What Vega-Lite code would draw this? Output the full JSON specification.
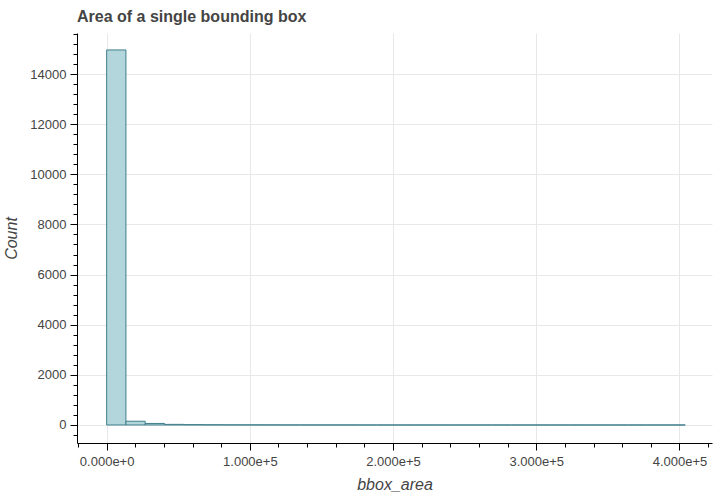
{
  "$schema": "https://vega.github.io/schema/vega-lite/v6.json",
  "width": 635,
  "height": 410,
  "autosize": "none",
  "padding": {"left": 77, "top": 33, "right": 8, "bottom": 56},
  "background": "white",
  "title": {"text": "Area of a single bounding box", "anchor": "start", "frame": "group", "font": "Liberation Sans", "fontSize": 16, "fontWeight": "bold", "color": "#444444", "offset": 8},
  "config": {
    "view": {"stroke": null},
    "axis": {"labelFont": "Liberation Sans", "titleFont": "Liberation Sans", "labelFontSize": 13, "titleFontSize": 16, "titleFontStyle": "italic", "titleFontWeight": "normal", "labelColor": "#444444", "titleColor": "#444444", "domainColor": "#000000", "tickColor": "#000000", "gridColor": "#e8e8e8", "gridWidth": 1}
  },
  "data": {"values": [
    {"bin_start": 0, "bin_end": 13467, "count": 14960},
    {"bin_start": 13467, "bin_end": 26933, "count": 150},
    {"bin_start": 26933, "bin_end": 40400, "count": 62},
    {"bin_start": 40400, "bin_end": 53867, "count": 25},
    {"bin_start": 53867, "bin_end": 67333, "count": 14},
    {"bin_start": 67333, "bin_end": 80800, "count": 9},
    {"bin_start": 80800, "bin_end": 94267, "count": 6},
    {"bin_start": 94267, "bin_end": 107733, "count": 5},
    {"bin_start": 107733, "bin_end": 121200, "count": 4},
    {"bin_start": 121200, "bin_end": 134667, "count": 3},
    {"bin_start": 134667, "bin_end": 148133, "count": 2},
    {"bin_start": 148133, "bin_end": 161600, "count": 2},
    {"bin_start": 161600, "bin_end": 175067, "count": 2},
    {"bin_start": 175067, "bin_end": 188533, "count": 1},
    {"bin_start": 188533, "bin_end": 202000, "count": 1},
    {"bin_start": 202000, "bin_end": 215467, "count": 1},
    {"bin_start": 215467, "bin_end": 228933, "count": 1},
    {"bin_start": 228933, "bin_end": 242400, "count": 1},
    {"bin_start": 242400, "bin_end": 255867, "count": 0},
    {"bin_start": 255867, "bin_end": 269333, "count": 1},
    {"bin_start": 269333, "bin_end": 282800, "count": 1},
    {"bin_start": 282800, "bin_end": 296267, "count": 0},
    {"bin_start": 296267, "bin_end": 309733, "count": 1},
    {"bin_start": 309733, "bin_end": 323200, "count": 0},
    {"bin_start": 323200, "bin_end": 336667, "count": 1},
    {"bin_start": 336667, "bin_end": 350133, "count": 0},
    {"bin_start": 350133, "bin_end": 363600, "count": 0},
    {"bin_start": 363600, "bin_end": 377067, "count": 1},
    {"bin_start": 377067, "bin_end": 390533, "count": 0},
    {"bin_start": 390533, "bin_end": 404000, "count": 1}
  ]},
  "resolve": {"axis": {"x": "independent", "y": "independent"}},
  "layer": [
    {
      "mark": {"type": "bar", "fill": "#b3d5dc", "stroke": "#3f7f8a", "strokeWidth": 1},
      "encoding": {
        "x": {"field": "bin_start", "type": "quantitative", "scale": {"domain": [-20700, 422700], "nice": false, "zero": false},
          "axis": {"orient": "bottom", "title": "bbox_area", "format": ".3e", "values": [0, 100000, 200000, 300000, 400000], "tickSize": 7, "labelPadding": 5, "titlePadding": 8, "grid": true, "labelFlush": false}},
        "x2": {"field": "bin_end"},
        "y": {"field": "count", "type": "quantitative", "scale": {"domain": [-718, 15636], "nice": false, "zero": false},
          "axis": {"orient": "left", "title": "Count", "values": [0, 2000, 4000, 6000, 8000, 10000, 12000, 14000], "format": "d", "tickSize": 7, "labelPadding": 4, "titlePadding": 10, "grid": true}},
        "y2": {"datum": 0}
      }
    },
    {
      "mark": {"type": "bar", "opacity": 0},
      "encoding": {
        "x": {"field": "bin_start", "type": "quantitative",
          "axis": {"orient": "bottom", "title": null, "labels": false, "domain": false, "grid": false, "tickSize": 4, "values": [-20000, 20000, 40000, 60000, 80000, 120000, 140000, 160000, 180000, 220000, 240000, 260000, 280000, 320000, 340000, 360000, 380000, 420000]}},
        "x2": {"field": "bin_end"},
        "y": {"field": "count", "type": "quantitative",
          "axis": {"orient": "left", "title": null, "labels": false, "domain": false, "grid": false, "tickSize": 4, "values": [-400, 400, 800, 1200, 1600, 2400, 2800, 3200, 3600, 4400, 4800, 5200, 5600, 6400, 6800, 7200, 7600, 8400, 8800, 9200, 9600, 10400, 10800, 11200, 11600, 12400, 12800, 13200, 13600, 14400, 14800, 15200, 15600]}},
        "y2": {"datum": 0}
      }
    }
  ]
}
